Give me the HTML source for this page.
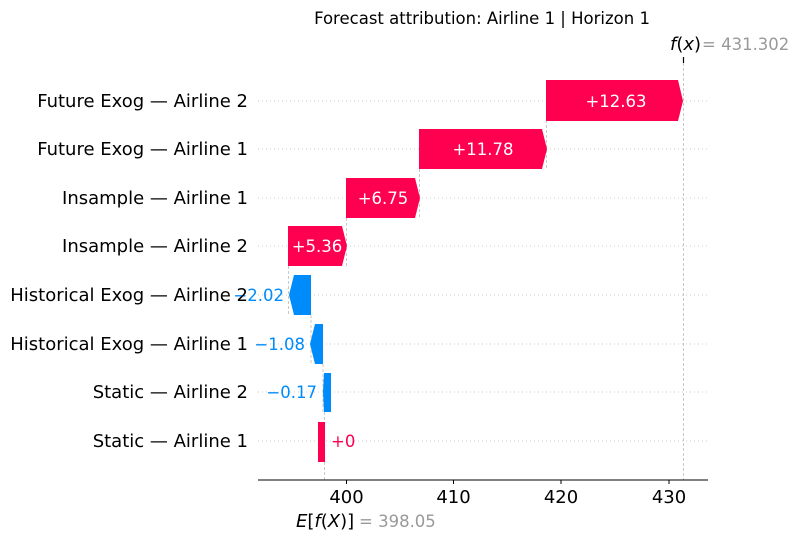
<!DOCTYPE html>
<html><head><meta charset="utf-8"><style>
html,body{margin:0;padding:0;background:#fff;}
svg{display:block;font-family:"DejaVu Sans","Liberation Sans",sans-serif;}
</style></head><body>
<svg width="799" height="540" viewBox="0 0 799 540" xmlns="http://www.w3.org/2000/svg">
<text x="482" y="24" font-size="16.5" text-anchor="middle" fill="#000">Forecast attribution: Airline 1 | Horizon 1</text>
<g stroke="#ccc" stroke-width="1" stroke-dasharray="1,3">
<line x1="258" y1="101" x2="708" y2="101"/><line x1="258" y1="149" x2="708" y2="149"/>
<line x1="258" y1="198" x2="708" y2="198"/><line x1="258" y1="246" x2="708" y2="246"/>
<line x1="258" y1="295" x2="708" y2="295"/><line x1="258" y1="344" x2="708" y2="344"/>
<line x1="258" y1="392" x2="708" y2="392"/><line x1="258" y1="441" x2="708" y2="441"/>
</g>
<g stroke="#bbb" stroke-width="0.8" stroke-dasharray="3,2">
<line x1="683.5" y1="58" x2="683.5" y2="480"/>
<line x1="324.5" y1="412" x2="324.5" y2="480"/>
<line x1="546.5" y1="120" x2="546.5" y2="170"/>
<line x1="419.5" y1="169" x2="419.5" y2="218"/>
<line x1="346.5" y1="218" x2="346.5" y2="266"/>
<line x1="288.5" y1="266" x2="288.5" y2="315"/>
<line x1="311" y1="315" x2="311" y2="364"/>
<line x1="323" y1="364" x2="323" y2="412"/>
</g>
<line x1="683.5" y1="57" x2="683.5" y2="63" stroke="#000" stroke-width="1.2"/>
<g fill="#ff0051">
<polygon points="546,80 678,80 683,101 678,121 546,121"/>
<polygon points="419,129 542,129 547,149 542,169 419,169"/>
<polygon points="346,178 415,178 420,198 415,218 346,218"/>
<polygon points="288,226 342,226 347,246 342,266 288,266"/>
<rect x="318" y="422" width="7" height="40"/>
</g>
<g fill="#008bfb">
<polygon points="311,275 294,275 289,295 294,315 311,315"/>
<polygon points="323,324 315,324 310,344 315,364 323,364"/>
<polygon points="331,373 324,373 323,392 324,412 331,412"/>
</g>
<g font-size="16.5">
<text x="616" y="107" fill="#fff" text-anchor="middle">+12.63</text>
<text x="483" y="155" fill="#fff" text-anchor="middle">+11.78</text>
<text x="383" y="204" fill="#fff" text-anchor="middle">+6.75</text>
<text x="317" y="252" fill="#fff" text-anchor="middle">+5.36</text>
<text x="284" y="301" fill="#008bfb" text-anchor="end">−2.02</text>
<text x="305" y="350" fill="#008bfb" text-anchor="end">−1.08</text>
<text x="317" y="398" fill="#008bfb" text-anchor="end">−0.17</text>
<text x="331" y="447" fill="#ff0051">+0</text>
</g>
<g font-size="18" text-anchor="end" fill="#000">
<text x="248" y="107">Future Exog — Airline 2</text>
<text x="248" y="155">Future Exog — Airline 1</text>
<text x="248" y="204">Insample — Airline 1</text>
<text x="248" y="252">Insample — Airline 2</text>
<text x="248" y="301">Historical Exog — Airline 2</text>
<text x="248" y="350">Historical Exog — Airline 1</text>
<text x="248" y="398">Static — Airline 2</text>
<text x="248" y="447">Static — Airline 1</text>
</g>
<line x1="258" y1="480" x2="708" y2="480" stroke="#000" stroke-width="1"/>
<g stroke="#000"><line x1="346.5" y1="480" x2="346.5" y2="484"/><line x1="453.5" y1="480" x2="453.5" y2="484"/><line x1="561" y1="480" x2="561" y2="484"/><line x1="669" y1="480" x2="669" y2="484"/></g>
<g font-size="18" text-anchor="middle" fill="#000">
<text x="346.5" y="503">400</text><text x="453.5" y="503">410</text><text x="561" y="503">420</text><text x="669" y="503">430</text>
</g>
<text x="296" y="527" font-size="18" fill="#000"><tspan font-style="italic">E</tspan>[<tspan font-style="italic">f</tspan>(<tspan font-style="italic">X</tspan>)]</text>
<text x="359" y="527" font-size="16.5" fill="#999">= 398.05</text>
<text x="670" y="50" font-size="18" fill="#000"><tspan font-style="italic">f</tspan>(<tspan font-style="italic">x</tspan>)</text>
<text x="702" y="50" font-size="16.5" fill="#999">= 431.302</text>
</svg>
</body></html>
